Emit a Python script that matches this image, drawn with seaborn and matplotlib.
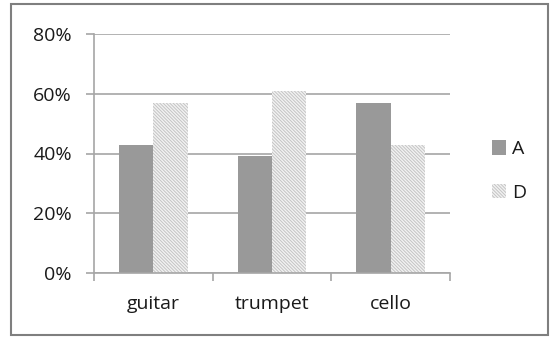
import matplotlib
matplotlib.use("Agg")
import matplotlib.pyplot as plt
import seaborn as sns
import pandas as pd
from matplotlib.ticker import PercentFormatter
from matplotlib.patches import Patch

instruments = ["guitar", "trumpet", "cello"]
series = ["A", "D"]
values_a = [0.43, 0.39, 0.57]
values_d = [0.57, 0.61, 0.43]
y_ticks = [0.0, 0.2, 0.4, 0.6, 0.8]

df = pd.DataFrame({
    "instrument": instruments * 2,
    "series": ["A"] * 3 + ["D"] * 3,
    "share": values_a + values_d,
})

sns.set_theme(style="white")
plt.rcParams["font.family"] = ["Open Sans", "DejaVu Sans"]
plt.rcParams["hatch.color"] = "#c4c4c4"
plt.rcParams["hatch.linewidth"] = 0.7

TEXT = "#1a1a1a"
GRID = "#a6a6a6"
HATCH = "\\" * 10

fig = plt.figure(figsize=(5.53, 3.38), dpi=100)
ax = fig.add_axes([94 / 553, 1 - 273 / 338, (450 - 94) / 553, (273 - 34) / 338])

palette = {"A": "#999999", "D": "#f2f2f2"}
sns.barplot(data=df, x="instrument", y="share", hue="series", palette=palette,
            width=0.58, ax=ax, legend=False, saturation=1, linewidth=0)

# hatch the D bars
n = len(instruments)
for i, patch in enumerate(ax.patches):
    if i >= n:
        patch.set_hatch(HATCH)
        patch.set_edgecolor("#c4c4c4")
        patch.set_linewidth(0)

ax.set_ylim(0, 0.8)
ax.set_yticks(y_ticks)
ax.yaxis.set_major_formatter(PercentFormatter(1.0, decimals=0))
ax.set_xlim(-0.5, 2.5)
ax.set_xlabel("")
ax.set_ylabel("")
ax.yaxis.grid(True, color=GRID, linewidth=1.2)
ax.set_axisbelow(True)

for side in ["top", "right"]:
    ax.spines[side].set_visible(False)
for side in ["left", "bottom"]:
    ax.spines[side].set_color(GRID)
    ax.spines[side].set_linewidth(1.2)

ax.tick_params(axis="y", which="major", length=6, width=1.2, color=GRID,
               direction="out", left=True, labelsize=14, labelcolor=TEXT, pad=10)
ax.tick_params(axis="x", which="major", length=0, labelsize=14,
               labelcolor=TEXT, pad=16)
# category separators on the bottom axis
ax.set_xticks([-0.5, 0.5, 1.5, 2.5], minor=True)
ax.tick_params(axis="x", which="minor", length=6, width=1.2, color=GRID,
               direction="out", bottom=True)

handles = [Patch(facecolor="#999999", edgecolor="none", label="A"),
           Patch(facecolor="#f2f2f2", edgecolor="#c4c4c4", linewidth=0,
                 hatch=HATCH, label="D")]
fig.legend(handles=handles, loc="center left", bbox_to_anchor=(474 / 553, 1 - 171 / 338),
           frameon=False, fontsize=14, handlelength=0.75, handleheight=0.75,
           handletextpad=0.3, labelspacing=1.3, labelcolor=TEXT)

# outer chart frame
frame = plt.Rectangle((11 / 553, 3 / 338), 537 / 553, 331 / 338, transform=fig.transFigure,
                      fill=False, edgecolor="#7f7f7f", linewidth=1.5)
fig.add_artist(frame)

fig.savefig("out.png", dpi=100)
